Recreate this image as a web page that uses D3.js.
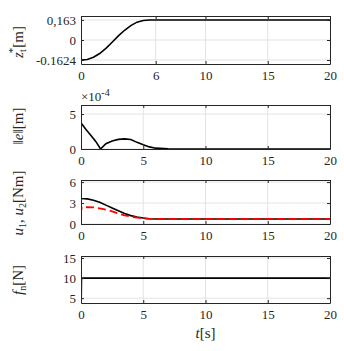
<!DOCTYPE html>
<html>
<head>
<meta charset="utf-8">
<script src="https://cdn.jsdelivr.net/npm/d3@7"></script>
<style>
  body { margin: 0; background: #fff; }
  svg { display: block; }
  .axis path, .axis line { stroke: #262626; }
  .grid line { stroke: #e3e3e3; stroke-width: 1; }
</style>
</head>
<body>
<svg width="344" height="351"></svg>
<script>
const SERIF = '"Liberation Serif", "Times New Roman", serif'

// z_t^* [m]
const timeZ = [0, 0.5, 1, 1.5, 2, 2.5, 3, 3.5, 4, 4.5, 5, 5.5, 6, 20]
const zTarget = [-0.1624, -0.158, -0.14, -0.11, -0.068, -0.018, 0.033, 0.079, 0.117, 0.145, 0.159, 0.163, 0.163, 0.163]

// ||e|| [m] (x 1e-4)
const timeE = [0, 0.02, 0.4, 0.8, 1.2, 1.57, 2, 2.5, 3, 3.5, 4, 4.5, 5, 5.5, 6, 7, 8, 20]
const errNorm = [6.3, 3.7, 2.8, 1.95, 1.05, 0, 0.75, 1.15, 1.38, 1.45, 1.35, 0.95, 0.6, 0.3, 0.12, 0.04, 0.01, 0]

// u1, u2 [Nm]
const timeU1 = [0, 0.02, 0.5, 1, 1.5, 2, 2.5, 3, 3.5, 4, 4.5, 5, 5.5, 6, 20]
const u1 = [6.3, 3.65, 3.6, 3.4, 3.1, 2.7, 2.3, 1.9, 1.5, 1.2, 1.0, 0.85, 0.75, 0.72, 0.72]
const timeU2 = [0, 0.02, 0.06, 0.5, 1, 1.5, 2, 2.5, 3, 3.5, 4, 4.5, 5, 5.5, 6, 20]
const u2 = [4.4, 2.0, 2.42, 2.4, 2.38, 2.25, 2.05, 1.8, 1.5, 1.25, 1.05, 0.9, 0.8, 0.73, 0.72, 0.72]

// f_n [N]
const timeF = [0, 0.02, 0.04, 20]
const fn = [15.5, 5, 10, 10]

const LEFT = 81, RIGHT = 330

const panels = [
  { top: 16, bottom: 64, domain: [-0.195, 0.195], yticks: [-0.1624, 0, 0.163],
    ylabels: ['-0.1624', '0', '0,163'], xticks: [0, 6, 10, 15, 20],
    lines: [{ t: timeZ, v: zTarget, color: '#000' }] },
  { top: 105, bottom: 149, domain: [0, 6.3], yticks: [0, 5], xticks: [0, 5, 10, 15, 20],
    lines: [{ t: timeE, v: errNorm, color: '#000' }], exponent: true },
  { top: 180, bottom: 224, domain: [0, 6.3], yticks: [0, 3, 6], xticks: [0, 5, 10, 15, 20],
    lines: [{ t: timeU1, v: u1, color: '#000' }, { t: timeU2, v: u2, color: '#ff0000', dash: '8,4' }] },
  { top: 256, bottom: 303, domain: [3.8, 15.5], yticks: [5, 10, 15], xticks: [0, 5, 10, 15, 20],
    lines: [{ t: timeF, v: fn, color: '#000' }] },
]

const svg = d3.select('svg')
const x = d3.scaleLinear().domain([0, 20]).range([LEFT, RIGHT])

panels.forEach((p, i) => {
  const y = d3.scaleLinear().domain(p.domain).range([p.bottom, p.top])
  const g = svg.append('g')

  // grid
  const grid = g.append('g').attr('class', 'grid')
  grid.selectAll('.gx').data(p.xticks.filter(d => d > 0 && d < 20)).join('line')
    .attr('x1', d => x(d)).attr('x2', d => x(d)).attr('y1', p.top).attr('y2', p.bottom)
  grid.selectAll('.gy').data(p.yticks).join('line').attr('class', 'gy')
    .attr('x1', LEFT).attr('x2', RIGHT).attr('y1', d => y(d)).attr('y2', d => y(d))

  // data lines
  const clipId = 'clip' + i
  g.append('clipPath').attr('id', clipId).append('rect')
    .attr('x', LEFT).attr('y', p.top).attr('width', RIGHT - LEFT).attr('height', p.bottom - p.top)
  const line = d3.line().x(d => x(d[0])).y(d => y(d[1]))
  p.lines.forEach(l => {
    g.append('path')
      .datum(l.t.map((t, k) => [t, l.v[k]]))
      .attr('clip-path', `url(#${clipId})`)
      .attr('fill', 'none')
      .attr('stroke', l.color)
      .attr('stroke-width', l.dash ? 1.8 : 1.6)
      .attr('stroke-dasharray', l.dash || null)
      .attr('d', line)
  })

  // axes
  const fmt = p.ylabels ? (d, k) => p.ylabels[k] : d3.format('d')
  g.append('g').attr('class', 'axis').attr('transform', `translate(0,${p.bottom})`)
    .call(d3.axisBottom(x).tickValues(p.xticks).tickSize(-3).tickPadding(7).tickSizeOuter(0))
  g.append('g').attr('class', 'axis').attr('transform', `translate(0,${p.top})`)
    .call(d3.axisTop(x).tickValues(p.xticks).tickSize(-3).tickFormat('').tickSizeOuter(0))
  g.append('g').attr('class', 'axis').attr('transform', `translate(${LEFT},0)`)
    .call(d3.axisLeft(y).tickValues(p.yticks).tickFormat(fmt).tickSize(-3).tickPadding(5).tickSizeOuter(0))
  g.append('g').attr('class', 'axis').attr('transform', `translate(${RIGHT},0)`)
    .call(d3.axisRight(y).tickValues(p.yticks).tickFormat('').tickSize(-3).tickSizeOuter(0))

  if (p.exponent) {
    const ex = g.append('text').attr('x', LEFT).attr('y', p.top - 4)
      .style('font-size', '13px')
    ex.append('tspan').text('×10')
    ex.append('tspan').style('font-size', '10px').attr('dy', -5).text('-4')
  }
})

// y labels
function ylabel(cx, cy, build) {
  const t = svg.append('text').attr('class', 'ylab')
    .attr('text-anchor', 'middle')
    .style('font-size', '15px')
    .attr('transform', `translate(${cx},${cy}) rotate(-90)`)
  build(t)
}

ylabel(23, 42, t => {
  t.append('tspan').style('font-style', 'italic').text('z')
  t.append('tspan').style('font-size', '10px').attr('dy', 3).text('t')
  t.append('tspan').style('font-size', '11px').attr('dx', -4).attr('dy', -10).text('*')
  t.append('tspan').attr('dy', 7).text('[m]')
})
ylabel(23, 126, t => {
  t.append('tspan').text('‖')
  t.append('tspan').style('font-style', 'italic').text('e')
  t.append('tspan').text('‖[m]')
})
ylabel(23, 203, t => {
  t.append('tspan').style('font-style', 'italic').text('u')
  t.append('tspan').style('font-size', '10px').attr('dy', 3).text('1')
  t.append('tspan').attr('dy', -3).text(', ')
  t.append('tspan').style('font-style', 'italic').text('u')
  t.append('tspan').style('font-size', '10px').attr('dy', 3).text('2')
  t.append('tspan').attr('dy', -3).text('[Nm]')
})
ylabel(23, 280, t => {
  t.append('tspan').style('font-style', 'italic').text('f')
  t.append('tspan').style('font-size', '10px').attr('dy', 3).text('n')
  t.append('tspan').attr('dy', -3).text('[N]')
})

// x label
const xl = svg.append('text').attr('text-anchor', 'middle')
  .style('font-size', '15px')
  .attr('x', (LEFT + RIGHT) / 2).attr('y', 338)
xl.append('tspan').style('font-style', 'italic').text('t')
xl.append('tspan').text('[s]')

// serif font everywhere (axis groups set sans-serif by default)
svg.selectAll('.axis').attr('font-family', SERIF).attr('font-size', 13)
svg.selectAll('text').style('font-family', SERIF).style('fill', '#262626')
</script>
</body>
</html>
